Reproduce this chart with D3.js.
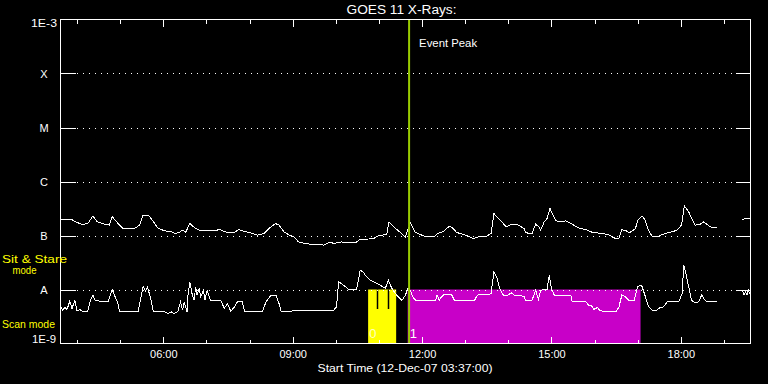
<!DOCTYPE html>
<html>
<head>
<meta charset="utf-8">
<script src="https://cdn.jsdelivr.net/npm/d3@7"></script>
<style>
  html, body { margin: 0; padding: 0; background: #000; }
  svg { display: block; }
  text { font-family: "Liberation Sans", sans-serif; fill: #fff; }
</style>
</head>
<body>
<div id="chart"></div>
<script>
// Long channel (1-8 A)
const longTimes = ["03:37","03:52","04:01","04:08","04:15","04:22","04:28","04:38","04:45","04:49","04:55","05:04","05:20","05:27","05:32","05:39","05:43","05:53","06:02","06:11","06:17","06:22","06:27","06:31","06:37","06:43","06:50","06:59","07:11","07:18","07:29","07:39","07:45","07:52","08:04","08:11","08:20","08:27","08:36","08:41","08:48","08:55","08:59","09:03","09:08","09:17","09:29","09:38","09:43","09:52","09:57","10:08","10:18","10:27","10:34","10:41","10:53","10:57","11:11","11:14","11:18","11:25","11:34","11:37","11:39","11:44","11:50","11:57","12:06","12:17","12:22","12:29","12:38","12:42","12:48","12:57","13:04","13:11","13:18","13:30","13:36","13:40","13:46","13:53","13:57","14:04","14:14","14:22","14:24","14:29","14:33","14:38","14:43","14:45","14:50","14:54","14:58","15:01","15:06","15:13","15:20","15:29","15:39","15:48","15:57","16:11","16:20","16:29","16:34","16:38","16:44","16:48","16:53","16:57","17:00","17:04","17:06","17:10","17:15","17:20","17:29","17:38","17:48","17:55","18:01","18:05","18:11","18:15","18:20","18:27","18:32","18:36","18:41","18:50","18:51","19:25","19:29","19:37"];
const longFlux = [1.99e-7,1.99e-7,1.72e-7,1.60e-7,1.67e-7,2.29e-7,1.79e-7,1.62e-7,1.56e-7,2.22e-7,1.79e-7,1.35e-7,1.35e-7,1.56e-7,2.38e-7,2.38e-7,2.07e-7,1.35e-7,1.22e-7,1.17e-7,1.09e-7,1.14e-7,1.26e-7,1.14e-7,1.67e-7,1.41e-7,1.26e-7,1.22e-7,1.22e-7,1.29e-7,1.14e-7,1.14e-7,1.29e-7,1.20e-7,1.09e-7,1.02e-7,1.09e-7,1.35e-7,1.67e-7,1.56e-7,1.17e-7,1.02e-7,9.7e-8,9.2e-8,7.6e-8,7.1e-8,6.8e-8,6.9e-8,6.6e-8,7.6e-8,7.1e-8,7.6e-8,7.3e-8,7.3e-8,8.5e-8,8.5e-8,8.8e-8,9.7e-8,1.06e-7,1.79e-7,1.56e-7,1.29e-7,1.02e-7,9.2e-8,1.17e-7,1.72e-7,1.17e-7,1.05e-7,9.4e-8,9.4e-8,1.09e-7,1.17e-7,1.49e-7,1.41e-7,1.14e-7,1.05e-7,9.7e-8,8.8e-8,9.4e-8,9.7e-8,1.09e-7,2.56e-7,2.07e-7,1.67e-7,1.44e-7,1.62e-7,1.56e-7,1.35e-7,1.14e-7,1.09e-7,1.09e-7,1.62e-7,1.44e-7,1.26e-7,1.79e-7,2.07e-7,3.17e-7,2.56e-7,1.87e-7,1.79e-7,1.87e-7,1.62e-7,1.35e-7,1.29e-7,1.14e-7,1.09e-7,1.02e-7,8.8e-8,9.0e-8,1.29e-7,1.22e-7,1.12e-7,1.22e-7,1.35e-7,1.93e-7,2.16e-7,2.29e-7,1.99e-7,1.26e-7,9.7e-8,9.7e-8,1.09e-7,1.17e-7,1.26e-7,1.56e-7,3.50e-7,2.74e-7,2.07e-7,1.56e-7,1.62e-7,1.79e-7,1.62e-7,1.44e-7,1.41e-7,null,1.93e-7,2.07e-7,2.07e-7];

// Short channel (0.5-4 A)
const shortTimes = ["03:37","03:40","03:43","03:46","03:50","03:53","03:57","04:00","04:04","04:07","04:15","04:18","04:22","04:25","04:31","04:43","04:49","04:52","04:57","04:59","05:25","05:29","05:32","05:35","05:38","05:42","05:46","06:02","06:07","06:11","06:15","06:20","06:22","06:24","06:27","06:29","06:33","06:34","06:37","06:40","06:43","06:45","06:47","06:50","06:52","06:56","06:58","07:01","07:04","07:06","07:20","07:25","07:29","07:34","07:39","07:43","07:50","07:53","08:18","08:23","08:30","08:37","08:41","08:44","09:57","10:01","10:04","10:08","10:18","10:29","10:34","10:38","10:41","10:48","10:55","11:02","11:09","11:13","11:18","11:23","11:27","11:32","11:37","11:40","11:44","11:47","11:51","12:19","12:21","12:24","12:27","12:31","12:41","12:45","13:13","13:17","13:23","13:32","13:36","13:40","13:44","13:48","13:53","14:00","14:04","14:08","14:22","14:24","14:33","14:38","14:42","14:45","14:50","14:54","14:57","15:00","15:04","15:27","15:29","15:48","15:52","15:57","15:59","16:04","16:07","16:13","16:30","16:34","16:38","16:43","16:48","16:55","17:00","17:04","17:06","17:10","17:15","17:20","17:27","17:31","17:36","17:41","17:57","18:02","18:04","18:06","18:11","18:15","18:20","18:25","18:29","18:33","18:36","18:50","18:51","19:26","19:28","19:30","19:32","19:34","19:37"];
const shortFlux = [4.8e-9,4.1e-9,4.65e-9,4.27e-9,6.1e-9,4.45e-9,6.3e-9,3.96e-9,4.27e-9,3.96e-9,3.96e-9,5.9e-9,7.9e-9,6.3e-9,6.1e-9,5.9e-9,1.0e-8,7.9e-9,5.5e-9,3.96e-9,3.96e-9,7.3e-9,1.15e-8,9.4e-9,1.09e-8,7.3e-9,3.96e-9,3.85e-9,3.6e-9,3.85e-9,3.6e-9,3.85e-9,4.77e-9,5.9e-9,4.14e-9,5.9e-9,3.85e-9,7.3e-9,1.38e-8,8.4e-9,6.3e-9,1.12e-8,7.9e-9,1.05e-8,7.3e-9,9.7e-9,6.3e-9,9.7e-9,7.3e-9,6.3e-9,6.2e-9,4.45e-9,5.5e-9,3.96e-9,4.77e-9,5.9e-9,5.9e-9,3.96e-9,3.96e-9,5.9e-9,7.9e-9,7.9e-9,5.5e-9,3.96e-9,4.14e-9,4.77e-9,1.38e-8,1.29e-8,1.0e-8,1.0e-8,2.28e-8,2.12e-8,1.85e-8,1.49e-8,1.33e-8,1.2e-8,1.05e-8,1.49e-8,1.05e-8,8.4e-9,7.3e-9,6.3e-9,7.9e-9,1.05e-8,9.7e-9,7.3e-9,6.3e-9,6.3e-9,7.9e-9,6.3e-9,7.3e-9,8.1e-9,8.1e-9,6.3e-9,6.3e-9,7.9e-9,8.1e-9,8.1e-9,8.4e-9,2.12e-8,1.67e-8,1.05e-8,7.9e-9,7.9e-9,8.7e-9,7.9e-9,7.5e-9,6.3e-9,6.3e-9,9.7e-9,6.5e-9,9.7e-9,1.0e-8,1.0e-8,1.85e-8,1.05e-8,7.9e-9,7.9e-9,5.9e-9,5.9e-9,5.1e-9,4.9e-9,4.27e-9,4.65e-9,4.14e-9,3.85e-9,3.85e-9,4.77e-9,7.9e-9,7.3e-9,6.3e-9,6.3e-9,1.12e-8,1.2e-8,1.15e-8,7.9e-9,4.9e-9,4.14e-9,4.14e-9,4.65e-9,4.77e-9,5.9e-9,5.9e-9,8.4e-9,2.83e-8,2.28e-8,1.12e-8,6.3e-9,5.65e-9,5.9e-9,7.9e-9,6.5e-9,5.9e-9,5.9e-9,null,9.7e-9,7.9e-9,9.0e-9,7.9e-9,9.7e-9,7.9e-9];

// Instrument mode periods (0 = sit & stare, 1 = scan)
const modeStart = ["10:45","11:40"];
const modeEnd = ["11:24","17:04"];
const modeIds = [0, 1];
const modeBreaks = ["10:57","11:12"];

const eventPeak = "11:42";
const startTime = "03:37";
const endTime = "19:37";

const levelLabels = ["1E-3","X","M","C","B","A","1E-9"];
const levelValues = [1e-3,1e-4,1e-5,1e-6,1e-7,1e-8,1e-9];

const width = 768, height = 384;
const margin = { top: 19.5, right: 17.5, bottom: 40.5, left: 60.5 };

const parseTime = d3.timeParse("%H:%M");

const svg = d3.select("#chart")
  .append("svg")
  .attr("width", width)
  .attr("height", height);

svg.append("rect").attr("width", width).attr("height", height).attr("fill", "#000");

const x = d3.scaleTime()
  .domain([parseTime(startTime), parseTime(endTime)])
  .range([margin.left, width - margin.right]);

const y = d3.scaleLog()
  .domain([1e-9, 1e-3])
  .range([height - margin.bottom, margin.top]);

const x0 = margin.left, x1 = width - margin.right;
const yTop = margin.top, yBot = height - margin.bottom;

// Mode shading
const modeColor = ["#ffff00", "#c800c8"];
modeIds.forEach((m, i) => {
  svg.append("rect")
    .attr("x", x(parseTime(modeStart[i])))
    .attr("width", x(parseTime(modeEnd[i])) - x(parseTime(modeStart[i])))
    .attr("y", y(1e-8))
    .attr("height", y(1e-9) - y(1e-8))
    .attr("fill", modeColor[i]);
  svg.append("text")
    .attr("x", x(parseTime(modeStart[i])) + (i === 0 ? 1 : 2))
    .attr("y", 338)
    .attr("font-size", 13)
    .style("fill", i === 0 ? "#ffffc0" : "#fff")
    .text(m);
});
modeBreaks.forEach(t => {
  svg.append("line")
    .attr("x1", Math.round(x(parseTime(t))) + 0.5)
    .attr("x2", Math.round(x(parseTime(t))) + 0.5)
    .attr("y1", y(1e-8))
    .attr("y2", 309)
    .attr("stroke", "#000")
    .attr("stroke-width", 1.5);
});

// Dotted level lines
levelValues.slice(1, -1).forEach(v => {
  const yy = Math.round(y(v)) + 0.5;
  svg.append("line")
    .attr("x1", x0 + 16).attr("x2", x1 - 15)
    .attr("y1", yy).attr("y2", yy)
    .attr("stroke", "#fff")
    .attr("stroke-dasharray", "1,5")
    .attr("shape-rendering", "crispEdges");
  // ticks on both sides
  [[x0, x0 + 15], [x1 - 15, x1]].forEach(([a, b]) => {
    svg.append("line")
      .attr("x1", a).attr("x2", b)
      .attr("y1", yy).attr("y2", yy)
      .attr("stroke", "#fff")
      .attr("shape-rendering", "crispEdges");
  });
});

// Level labels
levelLabels.forEach((lab, i) => {
  const t = svg.append("text")
    .attr("font-size", 11)
    .attr("dy", "0.35em")
    .text(lab);
  if (i === 0) {
    t.attr("x", 57).attr("y", y(levelValues[i]) + 4).attr("text-anchor", "end")
      .attr("textLength", 26).attr("lengthAdjust", "spacingAndGlyphs");
  } else if (i === levelLabels.length - 1) {
    t.attr("x", 56).attr("y", y(levelValues[i]) - 4).attr("text-anchor", "end")
      .attr("textLength", 24).attr("lengthAdjust", "spacingAndGlyphs");
  } else {
    t.attr("x", 44).attr("y", y(levelValues[i]) + 0.5).attr("text-anchor", "middle");
  }
});

// Data lines
const line = d3.line()
  .defined(d => d.f != null)
  .x(d => x(d.t))
  .y(d => y(d.f));

const longData = longTimes.map((t, i) => ({ t: parseTime(t), f: longFlux[i] }));
const shortData = shortTimes.map((t, i) => ({ t: parseTime(t), f: shortFlux[i] }));

[longData, shortData].forEach(d => {
  svg.append("path")
    .datum(d)
    .attr("d", line)
    .attr("fill", "none")
    .attr("stroke", "#fff")
    .attr("stroke-width", 1)
    .attr("shape-rendering", "crispEdges");
});

// Event peak marker
const xp = x(parseTime(eventPeak));
svg.append("line")
  .attr("x1", xp).attr("x2", xp)
  .attr("y1", yTop).attr("y2", yBot)
  .attr("stroke", "#99cc00")
  .attr("stroke-width", 2);
svg.append("text")
  .attr("x", xp + 10).attr("y", 47)
  .attr("font-size", 11)
  .attr("textLength", 58).attr("lengthAdjust", "spacingAndGlyphs")
  .text("Event Peak");

// Time axes
const bottomMajor = d3.axisBottom(x)
  .ticks(d3.timeHour.every(3))
  .tickSize(-7)
  .tickPadding(7)
  .tickFormat(d3.timeFormat("%H:%M"));
const bottomMinor = d3.axisBottom(x)
  .ticks(d3.timeHour.every(1))
  .tickSize(-4)
  .tickFormat("");
const topMajor = d3.axisTop(x)
  .ticks(d3.timeHour.every(3))
  .tickSize(-7)
  .tickFormat("");
const topMinor = d3.axisTop(x)
  .ticks(d3.timeHour.every(1))
  .tickSize(-4)
  .tickFormat("");

[[bottomMinor, yBot], [bottomMajor, yBot], [topMinor, yTop], [topMajor, yTop]].forEach(([ax, yy]) => {
  const g = svg.append("g")
    .attr("transform", "translate(0," + yy + ")")
    .call(ax);
  g.select(".domain").remove();
  g.selectAll("line").attr("stroke", "#fff").attr("shape-rendering", "crispEdges");
  g.selectAll("text")
    .attr("font-family", "Liberation Sans, sans-serif")
    .attr("font-size", 11)
    .style("fill", "#fff");
});

// Frame
svg.append("rect")
  .attr("x", x0).attr("y", yTop)
  .attr("width", x1 - x0).attr("height", yBot - yTop)
  .attr("fill", "none")
  .attr("stroke", "#fff")
  .attr("shape-rendering", "crispEdges");

// Title and captions
svg.append("text")
  .attr("x", 401.5).attr("y", 14)
  .attr("text-anchor", "middle")
  .attr("font-size", 12)
  .attr("textLength", 110).attr("lengthAdjust", "spacingAndGlyphs")
  .text("GOES 11 X-Rays:");

svg.append("text")
  .attr("x", 405).attr("y", 372)
  .attr("text-anchor", "middle")
  .attr("font-size", 11)
  .attr("textLength", 175).attr("lengthAdjust", "spacingAndGlyphs")
  .text("Start Time (12-Dec-07 03:37:00)");

const yellowLabels = [
  { s: "Sit & Stare", x: 2, y: 263, w: 65 },
  { s: "mode", x: 12.5, y: 274, w: 24 },
  { s: "Scan mode", x: 2, y: 328, w: 53 }
];
yellowLabels.forEach(l => {
  svg.append("text")
    .attr("x", l.x).attr("y", l.y)
    .attr("font-size", 11)
    .attr("textLength", l.w).attr("lengthAdjust", "spacingAndGlyphs")
    .style("fill", "#ffff00")
    .text(l.s);
});
</script>
</body>
</html>
